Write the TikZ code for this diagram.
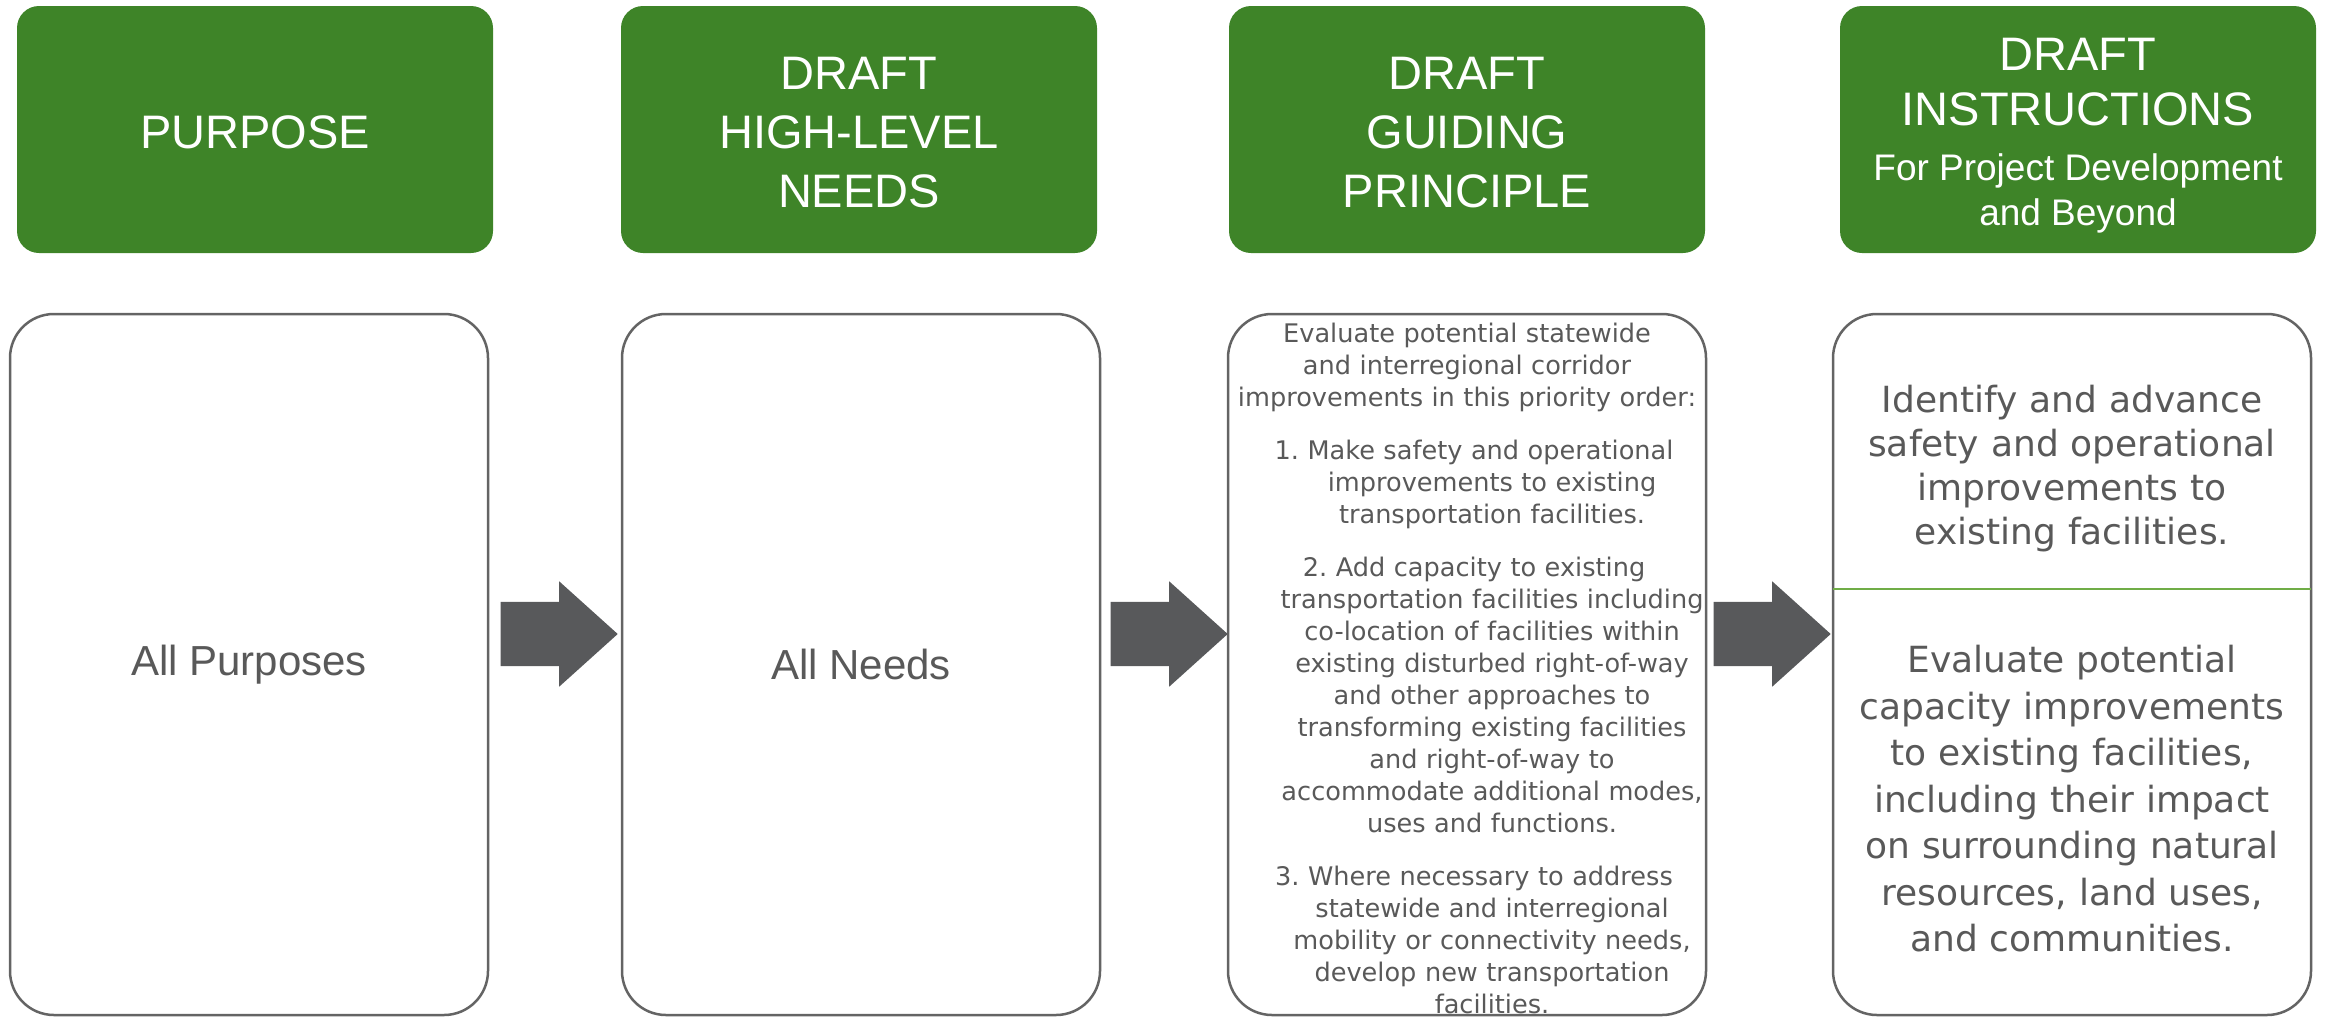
\documentclass[tikz,border=0pt]{standalone}
\usepackage{fontspec}
\setmainfont{Liberation Sans}
\newfontfamily\bodyfont{DejaVu Sans}
\usetikzlibrary{shapes.arrows}
\definecolor{headgreen}{RGB}{62,132,40}
\definecolor{arrowgray}{RGB}{88,89,91}
\definecolor{textgray}{RGB}{89,89,89}
\definecolor{edgegray}{RGB}{100,100,100}
\definecolor{rulegreen}{RGB}{112,173,71}
\frenchspacing
\newcommand{\numind}{\hspace*{14pt}}
\newcommand{\contind}{\hspace*{50pt}}
\newcommand{\subhead}{\fontsize{37}{45}\selectfont}
\tikzstyle{head}=[rectangle,
                  rounded corners=22pt,
                  fill=headgreen,
                  minimum width=476pt,
                  minimum height=247pt,
                  inner sep=0pt]
\tikzstyle{headtext}=[text=white,
                      inner sep=0pt,
                      align=center,
                      font={\fontsize{47}{59}\selectfont}]
\tikzstyle{panel}=[rectangle,
                   rounded corners=44pt,
                   draw=edgegray,
                   line width=2.5pt,
                   fill=white,
                   minimum width=478pt,
                   minimum height=701pt,
                   inner sep=0pt,
                   text=textgray,
                   font={\fontsize{42}{50}\selectfont}]
\tikzstyle{plan}=[text=textgray,
                  text width=479pt,
                  inner sep=0pt,
                  align=center,
                  font={\bodyfont\fontsize{25.6}{32}\selectfont}]
\tikzstyle{instr}=[text=textgray,
                   text width=470pt,
                   inner sep=0pt,
                   align=center]
\tikzstyle{blockarrow}=[single arrow,
                        fill=arrowgray,
                        anchor=tip,
                        inner sep=0pt,
                        text height=32pt,
                        text depth=32pt,
                        minimum height=117pt,
                        single arrow head extend=20.5pt,
                        single arrow tip angle=84]

\begin{document}
\begin{tikzpicture}[x=1pt,y=-1pt]
      \useasboundingbox (0,0) rectangle (2328,1018);

      \node[head] (purpose)      at ( 255,129.5) {};
      \node[head] (needs)        at ( 859,129.5) {};
      \node[head] (principle)    at (1467,129.5) {};
      \node[head] (instructions) at (2078,129.5) {};

      \node[headtext] (purpose_label)      at ( 255,132) {PURPOSE};
      \node[headtext] (needs_label)        at ( 859,132.5) {DRAFT\\HIGH-LEVEL\\NEEDS};
      \node[headtext] (principle_label)    at (1467,132.5) {DRAFT\\GUIDING\\PRINCIPLE};
      \node[headtext] (instructions_label) at (2078,136) {DRAFT\\[-4pt]INSTRUCTIONS\\[-4pt]{\subhead For Project Development}\\[-14pt]{\subhead and Beyond}};

      \node[panel] (purpose_box)      at ( 249,664.5) {All Purposes};
      \node[panel] (needs_box)        at ( 861,664.5) {All Needs};
      \node[panel] (principle_box)    at (1467,664.5) {};
      \node[panel] (instructions_box) at (2072,664.5) {};

      \node[plan] (principle_text) at (1467,668) {Evaluate potential statewide\\and interregional corridor\\improvements in this priority order:\\[21pt]
        \numind 1. Make safety and operational\\\contind improvements to existing\\\contind transportation facilities.\\[21pt]
        \numind 2. Add capacity to existing\\\contind transportation facilities including\\\contind co-location of facilities within\\\contind existing disturbed right-of-way\\\contind and other approaches to\\\contind transforming existing facilities\\\contind and right-of-way to\\\contind accommodate additional modes,\\\contind uses and functions.\\[21pt]
        \numind 3. Where necessary to address\\\contind statewide and interregional\\\contind mobility or connectivity needs,\\\contind develop new transportation\\\contind facilities.};

      \coordinate (rule_l) at (1833,589);
      \coordinate (rule_r) at (2311,589);
      \draw[rulegreen, line width=1.5pt] (rule_l) -- (rule_r);

      \node[instr, font={\bodyfont\fontsize{36}{44}\selectfont}] (safety_text) at (2072,469)
        {Identify and advance\\safety and operational\\improvements to\\existing facilities.};
      \node[instr, font={\bodyfont\fontsize{36}{46.5}\selectfont}] (capacity_text) at (2072,799)
        {Evaluate potential\\capacity improvements\\to existing facilities,\\including their impact\\on surrounding natural\\resources, land uses,\\and communities.};

      \node[blockarrow] (arrow_a) at ( 618,634) {};
      \node[blockarrow] (arrow_b) at (1228,634) {};
      \node[blockarrow] (arrow_c) at (1831,634) {};
    \end{tikzpicture}
\end{document}
